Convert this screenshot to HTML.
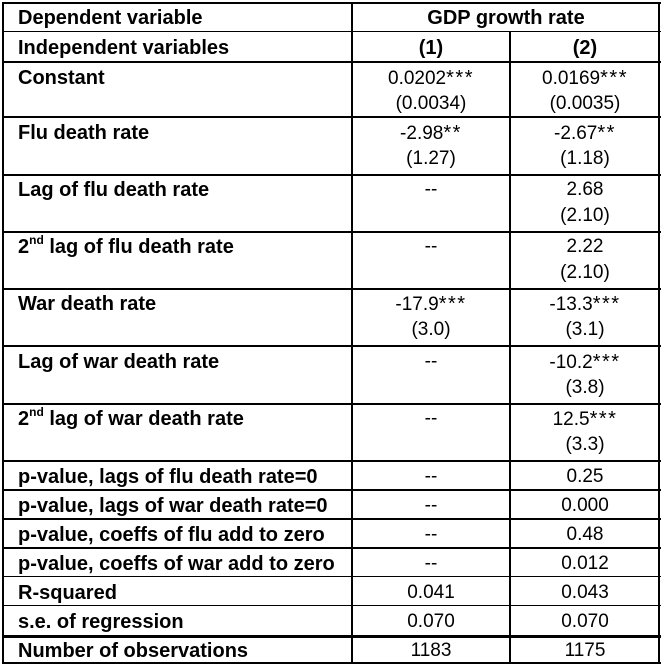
<!DOCTYPE html>
<html><head><meta charset="utf-8">
<style>
html,body{margin:0;padding:0;background:#fff;}
body{width:662px;height:666px;position:relative;overflow:hidden;font-family:"Liberation Sans",Arial,sans-serif;color:#000;}
.h{position:absolute;background:#000;height:2px;}
.v{position:absolute;background:#000;width:2px;}
.l{position:absolute;left:18px;font-weight:bold;font-size:20px;line-height:24px;height:24px;white-space:nowrap;margin-top:1px;}
.c{position:absolute;font-size:19px;line-height:24px;height:24px;text-align:center;white-space:nowrap;margin-top:1px;}
.c1{left:352px;width:158px;}
.c2{left:510px;width:150px;}
.b{font-weight:bold;}
.s{letter-spacing:1.5px;font-size:20px;}
sup{font-size:12px;line-height:0;position:relative;top:-1px;}
</style></head><body>
<!-- horizontal lines -->
<div class="h" style="left:3px;width:658px;top:2px;height:2px"></div>
<div class="h" style="left:3px;width:658px;top:31px;height:1px"></div>
<div class="h" style="left:3px;width:658px;top:61px"></div>
<div class="h" style="left:3px;width:658px;top:116px"></div>
<div class="h" style="left:3px;width:658px;top:174px"></div>
<div class="h" style="left:3px;width:658px;top:231px"></div>
<div class="h" style="left:3px;width:658px;top:288px"></div>
<div class="h" style="left:3px;width:658px;top:345px"></div>
<div class="h" style="left:3px;width:658px;top:403px"></div>
<div class="h" style="left:3px;width:658px;top:460px"></div>
<div class="h" style="left:3px;width:658px;top:489px"></div>
<div class="h" style="left:3px;width:658px;top:518px"></div>
<div class="h" style="left:3px;width:658px;top:547px"></div>
<div class="h" style="left:3px;width:658px;top:576px;height:1px"></div>
<div class="h" style="left:3px;width:658px;top:605px;height:1px"></div>
<div class="h" style="left:3px;width:658px;top:635px;height:3px"></div>
<div class="h" style="left:3px;width:658px;top:662px"></div>
<!-- vertical lines -->
<div class="v" style="left:2px;top:2px;height:662px"></div>
<div class="v" style="left:351px;top:2px;height:662px"></div>
<div class="v" style="left:509px;top:31px;height:633px"></div>
<div class="v" style="left:658px;top:2px;height:662px"></div>

<!-- header -->
<div class="l" style="top:5px">Dependent variable</div>
<div class="c b" style="left:352px;width:308px;top:5px;font-size:20px">GDP growth rate</div>
<div class="l" style="top:35px">Independent variables</div>
<div class="c c1 b" style="top:35px;font-size:20px">(1)</div>
<div class="c c2 b" style="top:35px;font-size:20px">(2)</div>

<!-- Constant -->
<div class="l" style="top:65px">Constant</div>
<div class="c c1" style="top:65px">0.0202<span class="s">***</span></div>
<div class="c c2" style="top:65px">0.0169<span class="s">***</span></div>
<div class="c c1" style="top:91px">(0.0034)</div>
<div class="c c2" style="top:91px">(0.0035)</div>

<!-- Flu -->
<div class="l" style="top:120px">Flu death rate</div>
<div class="c c1" style="top:120px">-2.98<span class="s">**</span></div>
<div class="c c2" style="top:120px">-2.67<span class="s">**</span></div>
<div class="c c1" style="top:146px">(1.27)</div>
<div class="c c2" style="top:146px">(1.18)</div>

<!-- Lag flu -->
<div class="l" style="top:177px">Lag of flu death rate</div>
<div class="c c1" style="top:177px">--</div>
<div class="c c2" style="top:177px">2.68</div>
<div class="c c2" style="top:203px">(2.10)</div>

<!-- 2nd lag flu -->
<div class="l" style="top:234px">2<sup>nd</sup> lag of flu death rate</div>
<div class="c c1" style="top:234px">--</div>
<div class="c c2" style="top:234px">2.22</div>
<div class="c c2" style="top:260px">(2.10)</div>

<!-- War -->
<div class="l" style="top:291px">War death rate</div>
<div class="c c1" style="top:291px">-17.9<span class="s">***</span></div>
<div class="c c2" style="top:291px">-13.3<span class="s">***</span></div>
<div class="c c1" style="top:317px">(3.0)</div>
<div class="c c2" style="top:317px">(3.1)</div>

<!-- Lag war -->
<div class="l" style="top:349px">Lag of war death rate</div>
<div class="c c1" style="top:349px">--</div>
<div class="c c2" style="top:349px">-10.2<span class="s">***</span></div>
<div class="c c2" style="top:375px">(3.8)</div>

<!-- 2nd lag war -->
<div class="l" style="top:406px">2<sup>nd</sup> lag of war death rate</div>
<div class="c c1" style="top:406px">--</div>
<div class="c c2" style="top:406px">12.5<span class="s">***</span></div>
<div class="c c2" style="top:432px">(3.3)</div>

<!-- single rows -->
<div class="l" style="top:464px">p-value, lags of flu death rate=0</div>
<div class="c c1" style="top:464px">--</div>
<div class="c c2" style="top:464px">0.25</div>

<div class="l" style="top:493px">p-value, lags of war death rate=0</div>
<div class="c c1" style="top:493px">--</div>
<div class="c c2" style="top:493px">0.000</div>

<div class="l" style="top:522px">p-value, coeffs of flu add to zero</div>
<div class="c c1" style="top:522px">--</div>
<div class="c c2" style="top:522px">0.48</div>

<div class="l" style="top:551px">p-value, coeffs of war add to zero</div>
<div class="c c1" style="top:551px">--</div>
<div class="c c2" style="top:551px">0.012</div>

<div class="l" style="top:580px">R-squared</div>
<div class="c c1" style="top:580px">0.041</div>
<div class="c c2" style="top:580px">0.043</div>

<div class="l" style="top:609px">s.e. of regression</div>
<div class="c c1" style="top:609px">0.070</div>
<div class="c c2" style="top:609px">0.070</div>

<div class="l" style="top:638px">Number of observations</div>
<div class="c c1" style="top:638px">1183</div>
<div class="c c2" style="top:638px">1175</div>
</body></html>
